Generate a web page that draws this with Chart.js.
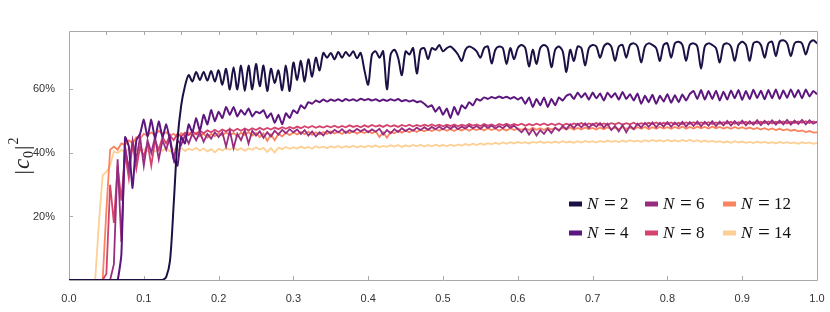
<!DOCTYPE html>
<html>
<head>
<meta charset="utf-8">
<script src="https://cdn.jsdelivr.net/npm/chart.js@4.4.1/dist/chart.umd.min.js"></script>
<style>
  html, body { margin: 0; padding: 0; background: #fff; }
  #wrap { width: 830px; height: 312px; }
</style>
</head>
<body>
<div id="wrap"><canvas id="chart" width="830" height="312"></canvas></div>
<script>
// samples every 0.005 along x, from 0 to 1
const step = 0.005

const n2 = [
  0,0,0,0,0,0,0,0,0,0,
  0,0,0,0,0,0,0,0,0,0,
  0,0,0,0,0,0,1,6,24,44,
  55,61,64.5,62.5,65.5,63,65.5,62.8,65.8,62.5,
  66,61.5,66.5,60,67,60,67.5,59.5,67.5,60,
  68,61,67.5,59.5,66.5,62,66,59.8,67.5,59.5,
  68.5,63,69,62.5,69.5,64,70,66,71.5,70,
  71.5,69.5,71.8,70,71.8,70.5,72,69.8,71.5,66,
  61.5,71,72,70,72,60,71,72.5,70,64.5,
  72,71,73,65,72.5,73,69.5,73,72.5,74,
  72,73,73.5,72.5,71,69,72.5,73.5,73,72,
  70,73,73.5,68.2,72.5,73.5,73,68,73,69.5,
  73,74,73,67.2,72.5,68,73,74,73,67,
  72.5,73.5,72,65.5,72.5,69,73.5,73,67.5,73,
  74,73.5,70,73.5,74.5,73.5,69,73.5,74,70,
  74,74.5,73.5,68.5,73.5,74.5,74,73,69,74,
  74.5,70,74.5,75,74,69,74,74.5,73.5,66.5,
  73.5,74.5,74,73,68.5,74,74.5,73.5,69,74,
  75,74,69,74.5,75,74,70,74.5,75,70.5,
  75,75.5,74.5,70.5,74.5,75,74.5,71,74.5,75.5,
  74.5
]

const n4 = [
  0,0,0,0,0,0,0,0,0,0,
  0,0,0,0,8,45,42,29,44,46,
  50.5,45,50.5,44.5,50,45,49,44,38,36,
  45,43,49,46.5,51,47,52,49,53.5,50,
  53,51,54.5,52,54.5,51.5,53.5,52,54,51.5,
  53,52.5,53.5,51,52.5,49.5,52,49,52.5,51,
  53.5,52.5,55,54,56,55.5,56.5,56,56.8,56.2,
  56.8,56.4,56.9,56.3,57,56.5,56.9,56.4,57.1,56.6,
  57,56.5,56.9,56.3,56.8,56.4,56.9,56.5,57,56.3,
  56.7,56.2,56.6,56,56.3,55.5,54.5,55,53,54.5,
  52,54,51,54.5,52,55,54,56,55,57,
  56.5,57.5,57,57.6,57.2,57.8,57.3,57.7,57.1,57.6,
  56.8,57.5,55.5,57.5,54.5,57,55,57.5,54.5,57,
  55,57.5,56.5,58,58.5,57,59,57.5,58.8,56.8,
  59,57.2,58.7,56.5,59,57.5,58.8,56.8,59.2,57,
  58.5,56.5,58.7,55.5,58,56,58.3,55.5,58,56.2,
  58.5,55.8,58.2,56,58.4,56.5,58.6,59.5,57,59.8,
  56.8,59.5,57,59.6,56.5,59.3,56.8,59.7,57.2,59.8,
  56.7,59.5,57,59.9,57.3,59.6,56.9,59.8,57.2,60,
  57,59.7,57.4,60,57.5,59.8,57.2,60,57.8,59.5,
  58.5
]

const n6 = [
  0,0,0,0,0,0,0,0,0,0,
  0,0,5,38,12,42,35,44,38,45,
  36,44,40,45,38,44,41,45,38,44,
  42.5,45.5,43,46,44,46.5,43.5,46,44.5,46.5,
  45,46.5,42,47,41.5,46,44,47.2,43,47,
  45.5,46.8,44.8,46.5,45.2,47,45.8,47.3,46.2,47.5,
  46.5,47.4,46,47.2,45.5,46.8,45.2,46.5,45.5,47,
  46.2,47.3,46.5,47.5,46.3,47.2,46.6,47.6,46.8,47.5,
  46.5,47.4,46.7,47.6,45.8,47.2,46.2,47.5,46.6,47.8,
  46.9,47.7,47,48,47.2,48.1,47.3,48.2,47.5,48.3,
  47.4,48.4,47.6,48.5,47.5,48.3,47.7,48.6,47.8,48.5,
  47.6,48.7,47.9,48.6,47.7,48.5,47.8,48.8,47.9,48.6,
  47.5,46.5,47.8,45.8,47.5,45.5,47.2,46,47.6,46.3,
  48,47,48.5,47.5,49,47.8,49.2,48,49.3,47.9,
  49.1,48.2,49.4,48,49.2,47.2,48.5,46.8,48.8,46.5,
  48.6,47.5,49.2,48,49.5,48.2,49.6,48.1,49.5,48.3,
  49.7,48.2,49.6,48.4,49.8,48.3,49.7,48.5,49.9,48.4,
  49.8,48.6,50,48.5,49.9,48.7,50.1,48.6,50,48.8,
  50.2,48.7,50,48.9,50.3,48.8,50.1,49,50.3,48.9,
  50.2,49,50.4,48.9,50.2,49.1,50.4,49,50.3,49.2,
  49.8
]

const n8 = [
  0,0,0,0,0,0,0,0,0,0,
  2,30,18,36,25,40,32,43,35,42,
  39,43,36,44,41,45,43,45.5,44,46,
  45.2,46.4,45.6,46.8,45.9,47,46.2,47.1,46.5,47.3,
  46.6,47.4,46.8,47.5,46.9,47.6,47,47.7,47.1,47.8,
  47.2,47.9,47.3,47.9,47.4,48,47.5,48.1,47.6,48.2,
  47.7,48.3,47.8,48.4,47.9,48.5,47.9,48.4,48,48.5,
  48.1,48.6,48,48.5,48.1,48.7,48.2,48.6,48.1,48.7,
  48.2,48.8,48.3,48.7,48.2,48.8,48.3,48.7,48.2,48.8,
  48.4,48.9,48.3,48.8,48.4,48.9,48.5,49,48.5,48.9,
  48.4,48.9,48.5,49,48.4,48.9,48.5,49.1,48.6,49,
  48.5,49.1,48.6,49,48.5,49.1,48.7,49.2,48.6,49.1,
  48.7,49.2,48.6,49.1,48.7,49.2,48.8,49.3,48.7,49.2,
  48.8,49.3,48.7,49.2,48.8,49.3,48.9,49.4,48.8,49.3,
  48.9,49.4,48.8,49.3,48.9,49.4,49,49.5,48.9,49.4,
  49,49.5,48.9,49.4,49,49.5,49.1,49.6,49,49.5,
  49.1,49.6,49,49.5,49.1,49.6,49.2,49.7,49.1,49.6,
  49.2,49.7,49.1,49.6,49.2,49.7,49.3,49.8,49.2,49.7,
  49.3,49.8,49.2,49.7,49.3,49.8,49.4,49.9,49.3,49.8,
  49.4,49.9,49.3,49.8,49.4,49.9,49.5,50,49.4,49.9,
  49.6
]

const n12 = [
  0,0,0,0,0,0,0,0,0,0,
  22,41,42,41,43,42.5,44,43,45,44.5,
  46,45.5,46.5,45.5,47,46,46.5,45.5,46,45,
  46.2,45.4,46.3,45.5,46.4,45.2,46.1,44.8,46,45.3,
  46.2,45.5,46.5,45.6,46.3,45.2,46.4,45.7,46.6,45.5,
  46.3,45,46.2,43.8,45.8,44,46,45.2,46.4,45.6,
  46.5,45.8,46.6,45.9,46.7,45.7,46.5,45.8,46.6,46,
  46.8,46.1,46.7,46,46.8,46.2,46.9,46.1,46.7,46.3,
  46.9,46.2,46.8,45,46.5,44.8,46.6,46.2,47,46.4,
  47.1,46.5,47.2,46.6,47.3,46.8,47.4,46.9,47.5,47,
  47.6,47,47.5,46.9,47.6,47.1,47.7,47,47.6,47.2,
  47.7,47.1,47.8,47.2,47.7,47,47.6,47.1,47.8,47.2,
  47.7,47.3,47.8,47.2,47.9,47.3,47.8,47.2,47.9,47.4,
  47.8,47.3,47.9,47.4,48,47.3,47.9,47.4,48,47.5,
  47.9,47.4,48,47.5,48.1,47.4,48,47.5,48.1,47.6,
  48,47.5,48.1,47.6,48.2,47.5,48.1,47.6,48.2,47.7,
  48.1,47.6,48.2,47.7,48.3,47.6,48.2,47.7,48.3,47.8,
  48.2,47.7,48.3,47.8,48.2,47.7,48.1,47.6,48.2,47.7,
  48.1,47.6,48,47.5,47.9,47.4,47.8,47.3,47.7,47.2,
  47.6,47.1,47.5,47,47.3,46.8,47.1,46.6,46.9,46.4,
  46.5
]

const n14 = [
  0,0,0,0,0,0,0,0,18,33,
  34,36,40.5,40,41,40.2,41.3,40.5,41,40.3,
  41.2,40.6,41.4,40.4,41.1,40.7,41.5,40.5,41.2,40.8,
  41.6,40.6,41.3,40.9,41.6,40.7,41.4,40.5,41.2,40.2,
  41.3,40.8,41.6,41,41.7,40.9,41.5,40.7,41.4,41,
  41.8,41.1,41.6,40.3,41.5,40.1,41.7,41.2,41.9,41.3,
  41.8,41.4,42,41.5,41.9,41.3,42.1,41.6,42,41.5,
  42.1,41.7,42.2,41.6,42.1,41.8,42.3,41.7,42.2,41.8,
  42.3,41.9,42.4,41.8,42.2,41.9,42.4,42,42.5,41.9,
  42.4,42,42.5,42.1,42.6,42,42.5,42.1,42.6,42.2,
  42.5,42.1,42.6,42.2,42.7,42.3,42.8,42.4,42.9,42.5,
  43,42.6,43.1,42.7,43.2,42.8,43.3,42.9,43.4,43,
  43.5,43.1,43.4,43,43.5,43.2,43.6,43.1,43.5,43.2,
  43.6,43.2,43.7,43.3,43.6,43.2,43.7,43.3,43.8,43.4,
  43.7,43.3,43.8,43.4,43.9,43.5,43.8,43.4,43.9,43.5,
  44,43.6,43.9,43.5,44,43.6,44.1,43.7,44,43.6,
  44.1,43.7,44,43.6,44.1,43.7,44.2,43.6,44,43.5,
  43.9,43.5,43.8,43.4,43.7,43.3,43.6,43.2,43.7,43.3,
  43.6,43.2,43.5,43.1,43.6,43.2,43.5,43.1,43.4,43,
  43.5,43.1,43.4,43,43.3,42.9,43.4,43,43.3,42.9,
  43.1
]

const seriesNums = ['2', '4', '6', '8', '12', '14']
const seriesValues = [n2, n4, n6, n8, n12, n14]
const seriesColors = ['#1c1044', '#5c167d', '#982d80', '#d3436e', '#f9845d', '#fecf92']
const seriesWidths = [2, 2, 1.8, 1.8, 1.8, 1.8]
const seriesTension = [0.3, 0.15, 0, 0, 0, 0]

const xTicks = [0, 0.1, 0.2, 0.3, 0.4, 0.5, 0.6, 0.7, 0.8, 0.9, 1.0]
const xTopTicks = [0.05, 0.1, 0.15, 0.2, 0.25, 0.3, 0.35, 0.4, 0.45, 0.5, 0.55, 0.6, 0.65, 0.7, 0.75, 0.8, 0.85, 0.9, 0.95]
const yTicks = [20, 40, 60]

const frameColor = '#a8a8a8'
const serif = '"Liberation Serif", "DejaVu Serif", serif'

// frame on all four sides with short inward ticks
const framePlugin = {
    id: 'frame',
    beforeDatasetsDraw(chart) {
        const {ctx, chartArea: a, scales: {x, y}} = chart
        ctx.save()
        ctx.strokeStyle = frameColor
        ctx.lineWidth = 1
        ctx.beginPath()
        ctx.rect(Math.round(a.left) + 0.5, Math.round(a.top) + 0.5,
            Math.round(a.right - a.left), Math.round(a.bottom - a.top))
        xTicks.forEach(v => {
            const px = Math.round(x.getPixelForValue(v)) + 0.5
            ctx.moveTo(px, a.bottom)
            ctx.lineTo(px, a.bottom - 4)
        })
        xTopTicks.forEach(v => {
            const px = Math.round(x.getPixelForValue(v)) + 0.5
            ctx.moveTo(px, a.top)
            ctx.lineTo(px, a.top + 4)
        })
        yTicks.forEach(v => {
            const py = Math.round(y.getPixelForValue(v)) + 0.5
            ctx.moveTo(a.left, py)
            ctx.lineTo(a.left + 4, py)
        })
        ctx.stroke()
        ctx.restore()
    }
}

// legend inside the plot: 3 columns x 2 rows, math-style labels
const legendPlugin = {
    id: 'mathLegend',
    afterDraw(chart) {
        const ctx = chart.ctx
        const colX = [569, 645, 723]
        const rowY = [204, 233]
        ctx.save()
        chart.data.datasets.forEach((ds, i) => {
            const x0 = colX[Math.floor(i / 2)]
            const yc = rowY[i % 2]
            ctx.fillStyle = ds.borderColor
            ctx.fillRect(x0, yc - 2.5, 13, 5)
            ctx.fillStyle = '#111'
            ctx.textBaseline = 'alphabetic'
            ctx.textAlign = 'left'
            const base = yc + 5
            ctx.font = 'italic 17px ' + serif
            ctx.fillText('N', x0 + 18, base)
            ctx.font = '21px ' + serif
            ctx.fillText('=', x0 + 35, base + 1)
            ctx.font = '17px ' + serif
            ctx.fillText(seriesNums[i], x0 + 51, base)
        })
        ctx.restore()
    }
}

// rotated y title |c0|^2
const yTitlePlugin = {
    id: 'yTitle',
    afterDraw(chart) {
        const {ctx, chartArea: a} = chart
        const parts = [
            {t: '|', f: '22px ' + serif, dy: 0},
            {t: 'c', f: 'italic 23px ' + serif, dy: 0},
            {t: '0', f: '14px ' + serif, dy: 4},
            {t: '|', f: '22px ' + serif, dy: 0},
            {t: '2', f: '14px ' + serif, dy: -11}
        ]
        ctx.save()
        ctx.translate(29, (a.top + a.bottom) / 2)
        ctx.rotate(-Math.PI / 2)
        ctx.fillStyle = '#222'
        ctx.textBaseline = 'alphabetic'
        ctx.textAlign = 'left'
        let total = 0
        parts.forEach(p => { ctx.font = p.f; p.w = ctx.measureText(p.t).width + 1; total += p.w })
        let cx = -total / 2
        parts.forEach(p => {
            ctx.font = p.f
            ctx.fillText(p.t, cx, p.dy)
            cx += p.w
        })
        ctx.restore()
    }
}

const datasets = seriesValues.map((vals, i) => ({
    label: 'N = ' + seriesNums[i],
    data: vals.map((v, k) => ({x: k * step, y: v})),
    borderColor: seriesColors[i],
    backgroundColor: seriesColors[i],
    borderWidth: seriesWidths[i],
    pointRadius: 0,
    tension: seriesTension[i],
    fill: false
}))

const tickFont = {family: '"Liberation Sans", Arial, sans-serif', size: 11}

new Chart(document.getElementById('chart'), {
    type: 'line',
    data: {datasets},
    options: {
        responsive: false,
        animation: false,
        layout: {padding: {left: 0, right: 13, top: 31, bottom: 0}},
        plugins: {
            legend: {display: false},
            tooltip: {enabled: false}
        },
        scales: {
            x: {
                type: 'linear',
                min: 0,
                max: 1,
                grid: {display: false},
                border: {display: false},
                afterBuildTicks: scale => { scale.ticks = xTicks.map(v => ({value: v})) },
                afterFit: scale => { scale.height = 32 },
                ticks: {
                    padding: 4,
                    color: '#333',
                    font: tickFont,
                    maxRotation: 0,
                    autoSkip: false,
                    callback: v => Number(v).toFixed(1)
                }
            },
            y: {
                type: 'linear',
                min: 0,
                max: 78.4,
                grid: {display: false},
                border: {display: false},
                afterBuildTicks: scale => { scale.ticks = yTicks.map(v => ({value: v})) },
                afterFit: scale => { scale.width = 69 },
                ticks: {
                    padding: 6,
                    color: '#333',
                    font: tickFont,
                    callback: v => v + '%'
                }
            }
        }
    },
    plugins: [framePlugin, legendPlugin, yTitlePlugin]
})
</script>
</body>
</html>
